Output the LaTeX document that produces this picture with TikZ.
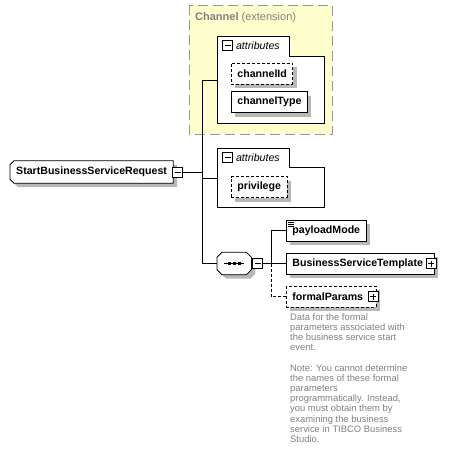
\documentclass[tikz,border=0pt]{standalone}
\usepackage{fontspec}
\setmainfont{Liberation Sans}
\usetikzlibrary{shapes,arrows}
\usetikzlibrary{positioning}
\pgfdeclarelayer{bg}
\pgfsetlayers{bg,main}
\definecolor{extyellow}{RGB}{255,255,206}
\definecolor{extborder}{RGB}{150,150,150}
\definecolor{doctext}{RGB}{128,128,128}
\definecolor{shade}{RGB}{184,184,184}
\tikzstyle{line} = [line width=0.8pt]
\tikzstyle{optline} = [line width=0.8pt, dash pattern=on 3pt off 2pt]
\tikzstyle{shadowed} = [preaction={fill=shade, transform canvas={xshift=4pt, yshift=-4pt}}]
\tikzstyle{boxtext} = [
    rectangle, anchor=west, minimum height=21pt, inner xsep=6pt, inner ysep=0pt,
    font=\fontsize{10.6}{12}\selectfont\bfseries]
\tikzstyle{elem} = [boxtext, draw=black, line width=0.8pt, fill=white, shadowed]
\tikzstyle{optelem} = [elem, dash pattern=on 3pt off 2pt]
\tikzstyle{icon} = [rectangle, draw=black, line width=0.8pt, fill=white,
    minimum size=10pt, inner sep=0pt]
\tikzstyle{minus} = [icon, path picture={
    \draw[line] ([xshift=2pt]path picture bounding box.west) -- ([xshift=-2pt]path picture bounding box.east);}]
\tikzstyle{plus} = [icon, path picture={
    \draw[line] ([xshift=2pt]path picture bounding box.west) -- ([xshift=-2pt]path picture bounding box.east);
    \draw[line] ([yshift=-2pt]path picture bounding box.north) -- ([yshift=2pt]path picture bounding box.south);}]
\tikzstyle{attrs} = [line, draw=black, fill=white]
\tikzstyle{attrlabel} = [anchor=west, inner sep=0pt, font=\fontsize{10.6}{12}\selectfont\itshape]

\begin{document}
\begin{tikzpicture}[x=1pt, y=-1pt]
\useasboundingbox (0,0) rectangle (463,461);

% extension base type
\draw [line width=1pt, draw=extborder, dash pattern=on 10pt off 5pt, fill=extyellow]
    (189,5) rectangle (332,134);
\node (ext) [anchor=west, inner sep=0pt, text=doctext, font=\fontsize{11}{12}\selectfont]
    at (195,17.5) {\textbf{Channel} (extension)};

% attributes of Channel
\draw [attrs] (217,36) -- (289,36) -- (289,56) -- (324,56) -- (324,123) -- (217,123) -- cycle;
\node (att1minus) [minus] at (227.5,45.5) {};
\node (att1label) [attrlabel, right=3pt of att1minus] {attributes};
\coordinate (att1) at (217,80);
\node (chid) [optelem] at (231,73.5) {channelId};
\node (chtype) [elem] at (231,102) {channelType};

% own attributes
\draw [attrs] (217,148) -- (289,148) -- (289,167) -- (324,167) -- (324,207) -- (217,207) -- cycle;
\node (att2minus) [minus] at (227.5,157.5) {};
\node (att2label) [attrlabel, right=3pt of att2minus] {attributes};
\coordinate (att2) at (217,178);
\node (priv) [optelem] at (231,187) {privilege};

% root element
\node (root) [boxtext, minimum height=22pt] at (10,172) {StartBusinessServiceRequest};
\begin{pgfonlayer}{bg}
\draw [line, fill=white, shadowed] ([xshift=4pt]root.north west) -- (root.north east)
    -- (root.south east) -- ([xshift=4pt]root.south west)
    -- ([yshift=4pt]root.south west) -- ([yshift=-4pt]root.north west) -- cycle;
\end{pgfonlayer}
\node (rootminus) [minus, anchor=west] at ([xshift=-1pt]root.east) {};
\coordinate (split) at (202,172);

% sequence
\node (seq) [boxtext, minimum width=34pt, minimum height=22pt, inner xsep=0pt] at (217,263.5) {};
\begin{pgfonlayer}{bg}
\draw [line, fill=white, shadowed] ([xshift=5pt]seq.north west) -- ([xshift=-5pt]seq.north east)
    -- ([yshift=-5pt]seq.north east) -- ([yshift=5pt]seq.south east)
    -- ([xshift=-5pt]seq.south east) -- ([xshift=5pt]seq.south west)
    -- ([yshift=5pt]seq.south west) -- ([yshift=-5pt]seq.north west) -- cycle;
\end{pgfonlayer}
\draw [line] ([xshift=-10pt]seq.center) -- ([xshift=10pt]seq.center);
\foreach \dx in {-5,0,5}
    \fill ([xshift=\dx pt]seq.center) +(-1.6pt,-1.6pt) rectangle +(1.6pt,1.6pt);
\node (seqminus) [minus, anchor=west] at ([xshift=1pt]seq.east) {};
\coordinate (fork) at (271,263.5);

\node (payload) [elem] at (286,230.5) {payloadMode};
\foreach \dy in {0,2,4}
    \draw [line width=0.6pt] (288,222+\dy) -- (294,222+\dy);
\node (bst) [elem] at (286,263.5) {BusinessServiceTemplate\kern 5pt};
\node (bstplus) [plus, anchor=east] at ([xshift=2pt]bst.east) {};
\node (formal) [optelem] at (286,296.5) {formalParams\kern 7pt};
\node (formalplus) [plus, anchor=east] at ([xshift=2pt]formal.east) {};

\node (doc) [anchor=north west, inner sep=0pt, align=left, text=doctext,
    font=\fontsize{9.4}{10.2}\selectfont] at (290,313) {
    Data for the formal\\
    parameters associated with\\
    the business service start\\
    event.\\[10.2pt]
    Note: You cannot determine\\
    the names of these formal\\
    parameters\\
    programmatically. Instead,\\
    you must obtain them by\\
    examining the business\\
    service in TIBCO Business\\
    Studio.
};

% connectors
\draw [line] (rootminus) -- (split);
\draw [line] (split) |- (att1);
\draw [line] (split) |- (att2);
\draw [line] (split) |- (seq.west);
\draw [line] (seqminus) -- (fork);
\draw [line] (fork) |- (payload.west);
\draw [line] (fork) -- (bst.west);
\draw [optline] (fork) |- (formal.west);
\end{tikzpicture}
\end{document}
